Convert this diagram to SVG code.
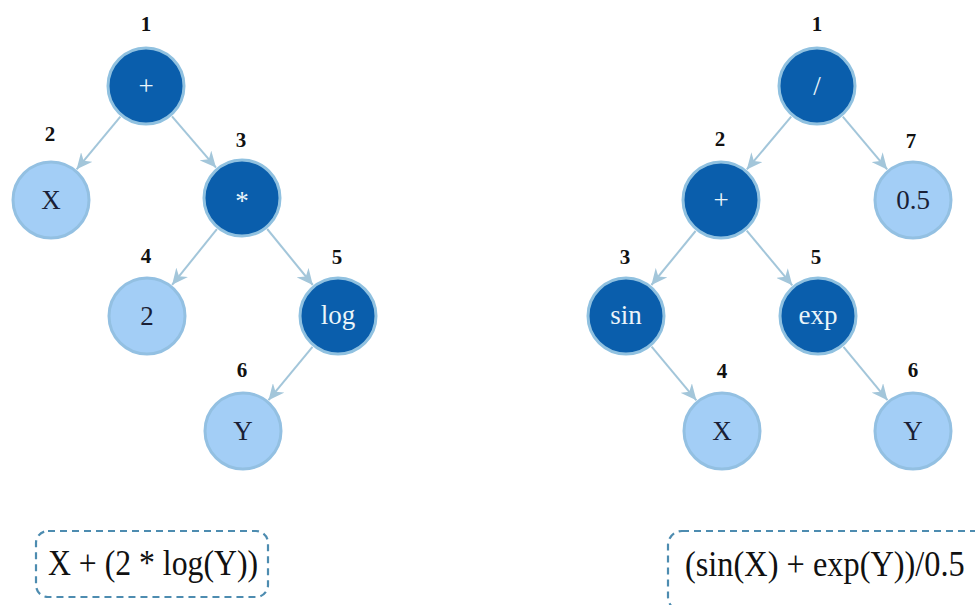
<svg xmlns="http://www.w3.org/2000/svg" width="975" height="605" viewBox="0 0 975 605">
<style>
.dk{fill:#0a5eac;stroke:#90c1e0;stroke-width:3}
.lt{fill:#a3cef6;stroke:#93c0e2;stroke-width:3}
.tw{font-family:"Liberation Serif",serif;font-size:27px;fill:#eaf5fa;text-anchor:middle}
.tb{font-family:"Liberation Serif",serif;font-size:27px;fill:#1a1f36;text-anchor:middle}
.num{font-family:"Liberation Serif",serif;font-weight:bold;font-size:21px;fill:#111;text-anchor:middle}
.edge{stroke:#a3c6da;stroke-width:2;fill:none;marker-end:url(#ah)}
.box{fill:none;stroke:#4d8cb0;stroke-width:2.2;stroke-dasharray:7 5}
.expr{font-family:"Liberation Serif",serif;font-size:35px;fill:#111}
</style>
<defs>
<marker id="ah" markerUnits="userSpaceOnUse" markerWidth="17" markerHeight="15" refX="16" refY="7.5" orient="auto">
<path d="M0,0 L16,7.5 L0,15 L5,7.5 z" fill="#a3c6da"/>
</marker>
</defs>
<g id="connectors">
<line class="edge" x1="120.4" y1="116.7" x2="76.6" y2="169.3"/>
<line class="edge" x1="172" y1="116.4" x2="216" y2="167.6"/>
<line class="edge" x1="216.9" y1="229.2" x2="172.1" y2="284.8"/>
<line class="edge" x1="267.2" y1="229" x2="312.8" y2="285"/>
<line class="edge" x1="312.5" y1="346.8" x2="268.5" y2="400.2"/>
<line class="edge" x1="791.2" y1="116.6" x2="746.8" y2="169.4"/>
<line class="edge" x1="842.8" y1="116.6" x2="887.2" y2="169.4"/>
<line class="edge" x1="695.6" y1="231" x2="651.4" y2="285"/>
<line class="edge" x1="746.7" y1="230.7" x2="792.3" y2="285.3"/>
<line class="edge" x1="651.6" y1="346.7" x2="696.4" y2="400.3"/>
<line class="edge" x1="843.5" y1="346.8" x2="887.5" y2="400.2"/>
</g>
<g id="L1"><circle class="dk" cx="146" cy="86" r="38"/><text class="tw" x="146" y="95">+</text><text class="num" x="146" y="31">1</text></g>
<g id="L2"><circle class="lt" cx="51" cy="200" r="38"/><text class="tb" x="51" y="209">X</text><text class="num" x="50" y="141">2</text></g>
<g id="L3"><circle class="dk" cx="242" cy="198" r="38"/><text class="tw" x="242" y="210">*</text><text class="num" x="241" y="147">3</text></g>
<g id="L4"><circle class="lt" cx="147" cy="316" r="38"/><text class="tb" x="147" y="325">2</text><text class="num" x="146" y="263">4</text></g>
<g id="L5"><circle class="dk" cx="338" cy="316" r="38"/><text class="tw" x="338" y="324">log</text><text class="num" x="337" y="264">5</text></g>
<g id="L6"><circle class="lt" cx="243" cy="431" r="38"/><text class="tb" x="243" y="440">Y</text><text class="num" x="242" y="377">6</text></g>
<g id="R1"><circle class="dk" cx="817" cy="86" r="38"/><text class="tw" x="817" y="95">/</text><text class="num" x="817" y="31">1</text></g>
<g id="R2"><circle class="dk" cx="721" cy="200" r="38"/><text class="tw" x="721" y="209">+</text><text class="num" x="720" y="146">2</text></g>
<g id="R7"><circle class="lt" cx="913" cy="200" r="38"/><text class="tb" x="913" y="209">0.5</text><text class="num" x="911" y="148">7</text></g>
<g id="R3"><circle class="dk" cx="626" cy="316" r="38"/><text class="tw" x="626" y="324">sin</text><text class="num" x="625" y="264">3</text></g>
<g id="R5"><circle class="dk" cx="818" cy="316" r="38"/><text class="tw" x="818" y="324">exp</text><text class="num" x="816" y="264">5</text></g>
<g id="R4"><circle class="lt" cx="722" cy="431" r="38"/><text class="tb" x="722" y="440">X</text><text class="num" x="722" y="378">4</text></g>
<g id="R6"><circle class="lt" cx="913" cy="431" r="38"/><text class="tb" x="913" y="440">Y</text><text class="num" x="913" y="377">6</text></g>
<g id="expr-left"><rect class="box" x="36" y="531" width="232" height="66" rx="12"/><text class="expr" transform="translate(48,575) scale(0.907,1)">X + (2 * log(Y))</text></g>
<g id="expr-right"><rect class="box" x="668" y="531" width="330" height="80" rx="14"/><text class="expr" transform="translate(685,576) scale(0.925,1)">(sin(X) + exp(Y))/0.5</text></g>
</svg>
